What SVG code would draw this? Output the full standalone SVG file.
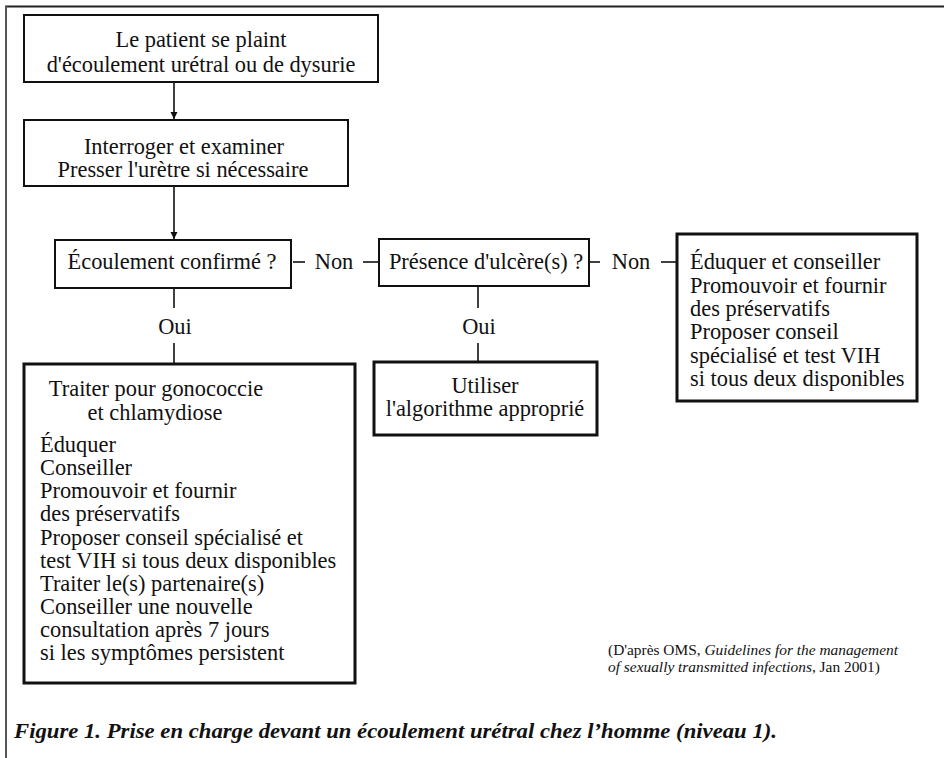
<svg xmlns="http://www.w3.org/2000/svg" width="944" height="758" viewBox="0 0 944 758">
  <style>
    text { font-family: "Liberation Serif", "Times New Roman", serif; fill: #111; }
    .t { font-size: 22.4px; }
    .c { text-anchor: middle; }
    .box { fill: #fff; stroke: #111; stroke-width: 2; }
    .thick { stroke-width: 3; }
    .link { stroke: #111; stroke-width: 1.6; fill: none; }
    .src { font-size: 15.4px; }
    .cap { font-size: 21px; font-weight: bold; font-style: italic; }
  </style>
  <defs>
    <marker id="arrow" viewBox="0 0 10 10" refX="10" refY="5" markerWidth="7" markerHeight="9" orient="auto" markerUnits="userSpaceOnUse">
      <path d="M0,0 L10,5 L0,10 z" fill="#111"/>
    </marker>
  </defs>

  <rect width="944" height="758" fill="#fff"/>

  <!-- page frame -->
  <g id="frame">
    <line x1="5" y1="6.5" x2="944" y2="6.5" stroke="#222" stroke-width="2"/>
    <line x1="6" y1="6" x2="6" y2="758" stroke="#555" stroke-width="2"/>
  </g>

  <!-- connectors -->
  <g id="connectors">
    <line class="link" x1="174" y1="82" x2="174" y2="119" marker-end="url(#arrow)"/>
    <line class="link" x1="174" y1="186" x2="174" y2="239" marker-end="url(#arrow)"/>
    <line class="link" x1="174" y1="288" x2="174" y2="308"/>
    <line class="link" x1="174" y1="343" x2="174" y2="363"/>
    <line class="link" x1="478" y1="286" x2="478" y2="308"/>
    <line class="link" x1="478" y1="343" x2="478" y2="361"/>
    <line class="link" x1="293" y1="262" x2="305" y2="262"/>
    <line class="link" x1="363" y1="262" x2="379" y2="262"/>
    <line class="link" x1="589" y1="262" x2="600" y2="262"/>
    <line class="link" x1="661" y1="262" x2="677" y2="262"/>
    <text class="t c" x="334" y="269">Non</text>
    <text class="t c" x="631" y="269">Non</text>
    <text class="t c" x="175" y="334">Oui</text>
    <text class="t c" x="479" y="334">Oui</text>
  </g>

  <g id="n-plainte">
    <rect class="box" x="24" y="15" width="354" height="67"/>
    <text class="t c" x="201" y="47">Le patient se plaint</text>
    <text class="t c" x="201" y="72">d'écoulement urétral ou de dysurie</text>
  </g>

  <g id="n-examen">
    <rect class="box" x="24" y="120" width="324" height="66"/>
    <text class="t c" x="184" y="154">Interroger et examiner</text>
    <text class="t c" x="183" y="177">Presser l'urètre si nécessaire</text>
  </g>

  <g id="n-ecoulement">
    <rect class="box" x="55" y="240" width="236" height="48"/>
    <text class="t c" x="172" y="269">Écoulement confirmé ?</text>
  </g>

  <g id="n-ulcere">
    <rect class="box" x="379" y="239" width="210" height="47"/>
    <text class="t c" x="486" y="269">Présence d'ulcère(s) ?</text>
  </g>

  <g id="n-conseil">
    <rect class="box thick" x="677" y="234" width="240" height="167"/>
    <text class="t" x="690" y="269">Éduquer et conseiller</text>
    <text class="t" x="690" y="293">Promouvoir et fournir</text>
    <text class="t" x="690" y="316">des préservatifs</text>
    <text class="t" x="690" y="339">Proposer conseil</text>
    <text class="t" x="690" y="363">spécialisé et test VIH</text>
    <text class="t" x="690" y="386">si tous deux disponibles</text>
  </g>

  <g id="n-traiter">
    <rect class="box thick" x="24" y="364" width="331" height="319"/>
    <text class="t c" x="156" y="396">Traiter pour gonococcie</text>
    <text class="t c" x="155" y="420">et chlamydiose</text>
    <text class="t" x="40" y="452">Éduquer</text>
    <text class="t" x="40" y="475">Conseiller</text>
    <text class="t" x="40" y="498">Promouvoir et fournir</text>
    <text class="t" x="40" y="521">des préservatifs</text>
    <text class="t" x="40" y="545">Proposer conseil spécialisé et</text>
    <text class="t" x="40" y="568">test VIH si tous deux disponibles</text>
    <text class="t" x="40" y="591">Traiter le(s) partenaire(s)</text>
    <text class="t" x="40" y="614">Conseiller une nouvelle</text>
    <text class="t" x="40" y="637">consultation après 7 jours</text>
    <text class="t" x="40" y="660">si les symptômes persistent</text>
  </g>

  <g id="n-algorithme">
    <rect class="box thick" x="374" y="362" width="223" height="73"/>
    <text class="t c" x="485" y="393">Utiliser</text>
    <text class="t c" x="485" y="416">l'algorithme approprié</text>
  </g>

  <!-- source note -->
  <g id="source">
    <text class="src" x="608" y="655">(D'après OMS, <tspan font-style="italic">Guidelines for the management</tspan></text>
    <text class="src" x="608" y="672"><tspan font-style="italic">of sexually transmitted infections</tspan>, Jan 2001)</text>
  </g>

  <!-- figure caption -->
  <text class="cap" x="14" y="738" textLength="763" lengthAdjust="spacingAndGlyphs">Figure 1. Prise en charge devant un écoulement urétral chez l’homme (niveau 1).</text>
</svg>
